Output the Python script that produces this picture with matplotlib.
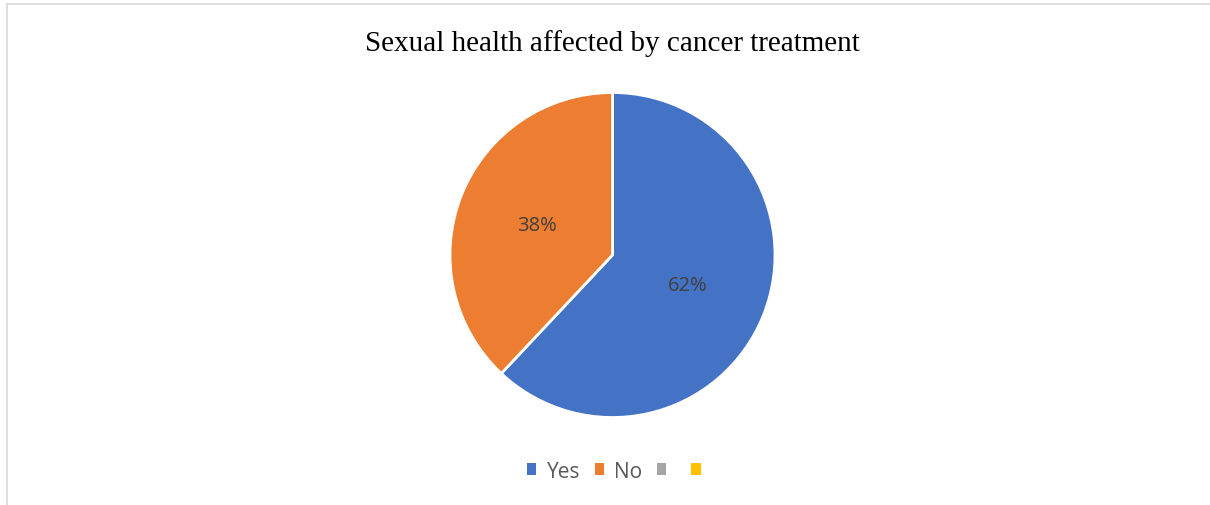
import matplotlib
matplotlib.use("Agg")
import matplotlib.pyplot as plt
from matplotlib.patches import Patch
from matplotlib.lines import Line2D

categories = ["Yes", "No"]
values = [62, 38]
colors = ["#4472C4", "#ED7D31"]
legend_labels = ["Yes", "No", "", ""]
legend_colors = ["#4472C4", "#ED7D31", "#A5A5A5", "#FFC000"]
title = "Sexual health affected by cancer treatment"

W, H = 1210, 506
fig = plt.figure(figsize=(W / 100, H / 100), dpi=100)

# border
fig.add_artist(Line2D([7 / W, 7 / W], [0, 1 - 5 / H], color="#D9D9D9", lw=1.2, transform=fig.transFigure))
fig.add_artist(Line2D([7 / W, 1], [1 - 5 / H, 1 - 5 / H], color="#D9D9D9", lw=1.2, transform=fig.transFigure))

cx, cy, r = 612.5, 256, 162.5
ax = fig.add_axes([(cx - r) / W, (H - cy - r) / H, 2 * r / W, 2 * r / H])
wedges, texts, autotexts = ax.pie(
    values, colors=colors, startangle=90, counterclock=False,
    autopct="%1.0f%%", pctdistance=0.5,
    wedgeprops=dict(edgecolor="white", linewidth=2),
    textprops=dict(color="#404040", fontsize=14.5, family="Open Sans"),
)
ax.set_xlim(-1, 1)
ax.set_ylim(-1, 1)
ax.set_aspect("equal")
ax.axis("off")

fig.text(612 / W, 1 - 44 / H, title, ha="center", va="center",
         family="Liberation Serif", fontsize=21, color="#000000")

handles = [Patch(facecolor=c, edgecolor="none") for c in legend_colors]
fig.legend(handles, legend_labels, loc="center", bbox_to_anchor=(619 / W, 1 - 472 / H),
           ncol=4, frameon=False, handlelength=0.45, handleheight=0.45,
           handletextpad=0.5, columnspacing=0.7,
           prop=dict(family="Open Sans", size=15), labelcolor="#595959")

fig.savefig("out.png", dpi=100)
